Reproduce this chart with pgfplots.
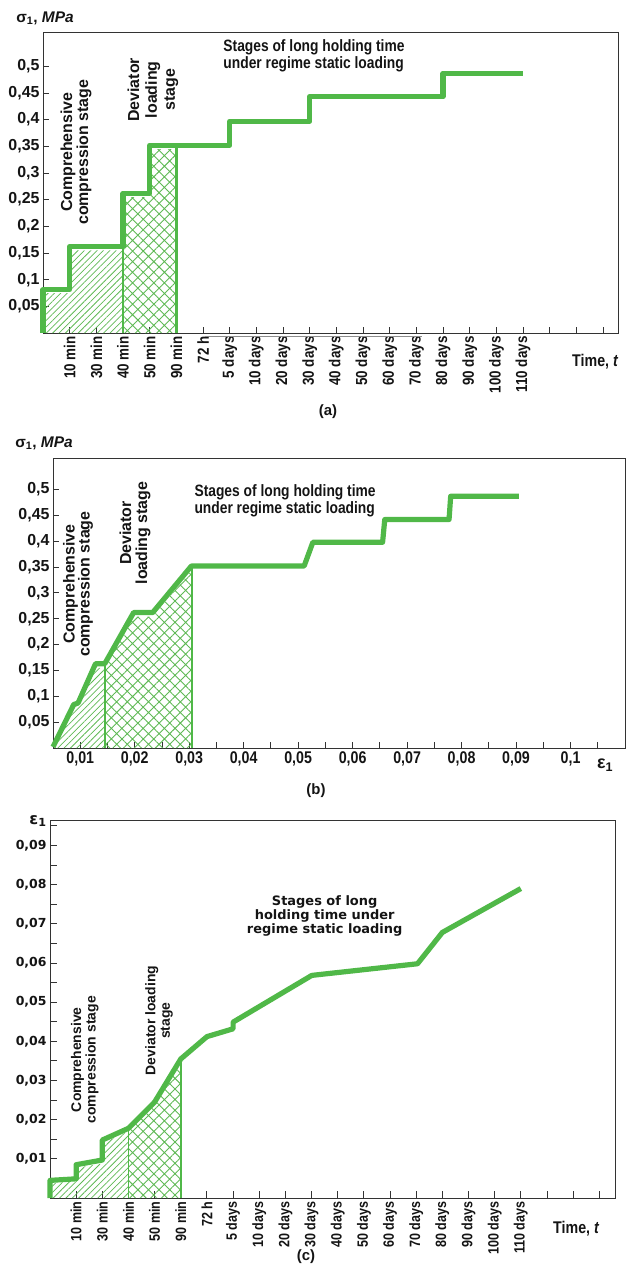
\documentclass[border=0pt]{standalone}
\usepackage{fontspec}
\setmainfont{Liberation Sans}
\newfontfamily\narrowsf{Liberation Sans}[FakeStretch=0.84]
\newfontfamily\djv{DejaVu Sans}
\usepackage{pgfplots}
\pgfplotsset{compat=1.18}
\usetikzlibrary{patterns.meta}
\definecolor{lgreen}{RGB}{80,184,72}
\definecolor{hgreen}{RGB}{95,185,85}
\definecolor{txt}{RGB}{20,20,20}

\pgfplotsset{
  panel/.style={
    scale only axis, anchor=south west, clip=false,
    axis line style={line width=1bp, black!80},
    every tick/.style={line width=0.9bp, black!80},
    tick pos=left, tick align=inside,
    major tick length=6bp, minor tick length=6bp,
    scaled ticks=false,
    /pgf/number format/assume math mode=true,
    /pgf/number format/use comma, /pgf/number format/fixed, /pgf/number format/precision=2,
    ticklabel style={text=txt},
  },
  stepline/.style={lgreen, line width=5.2bp, line join=round, line cap=butt},
  linesfill/.style={draw=none, pattern={Lines[angle=45,distance=4.5bp,line width=0.75bp]}, pattern color=hgreen},
  crossfill/.style={draw=none, pattern={Hatch[angle=45,distance=7.5bp,line width=0.9bp]}, pattern color=hgreen},
}

\begin{document}
\begin{tikzpicture}
\useasboundingbox (0,0) rectangle (626bp,-1264bp);

% ================= (a) =================
\begin{axis}[panel, at={(43bp,-333bp)}, width=575bp, height=300bp,
  xmin=0, xmax=21.56, ymin=0, ymax=0.5625,
  xtick={1,...,21},
  xticklabels={10 min,30 min,40 min,50 min,90 min,72 h,5 days,10 days,20 days,30 days,40 days,50 days,60 days,70 days,80 days,90 days,100 days,110 days,{},{},{}},
  xticklabel style={rotate=90, anchor=east, font=\narrowsf\fontsize{16}{16}\selectfont\bfseries},
  ytick={0.05,0.1,0.15,0.2,0.25,0.3,0.35,0.4,0.45,0.5},
  yticklabel style={font=\fontsize{16}{16}\selectfont\bfseries},
]
\addplot[linesfill] coordinates {(0,0) (0,0.075) (1,0.075) (1,0.155) (3,0.155) (3,0)};
\addplot[crossfill] coordinates {(3,0) (3,0.255) (4,0.255) (4,0.345) (5,0.345) (5,0)};
\addplot[lgreen, line width=1.4bp] coordinates {(3,0) (3,0.26)};
\addplot[lgreen, line width=2.4bp] coordinates {(5,0) (5,0.35)};
\addplot[stepline] coordinates {(0,0) (0,0.081) (1,0.081) (1,0.162) (3,0.162) (3,0.262) (4,0.262) (4,0.352) (7,0.352) (7,0.397) (10,0.397) (10,0.443) (15,0.443) (15,0.487) (18,0.487)};
\node[rotate=90, align=center, text=txt, font=\fontsize{16}{16}\selectfont\bfseries] at (axis cs:1.24,0.339) {Comprehensive\\compression stage};
\node[rotate=90, align=center, text=txt, font=\fontsize{16}{18}\selectfont\bfseries] at (axis cs:4.12,0.456) {Deviator\\loading\\stage};
\node[align=left, text=txt, font=\narrowsf\fontsize{16.5}{17}\selectfont\bfseries] at (axis cs:10.16,0.519) {Stages of long holding time\\under regime static loading};
\end{axis}
\draw[black!45, line width=1bp] (205bp,-336.5bp) -- (422bp,-336.5bp);
\node[text=txt, font=\fontsize{15.5}{16}\selectfont] at (45bp,-18bp) {\bfseries σ\textsubscript{1}, \itshape MPa};
\node[text=txt, font=\narrowsf\fontsize{17}{17}\selectfont] at (595bp,-362bp) {\bfseries Time, \itshape t};
\node[text=txt, font=\fontsize{15}{15}\selectfont\bfseries] at (328bp,-412bp) {(a)};

% ================= (b) =================
\begin{axis}[panel, at={(53bp,-748bp)}, width=572bp, height=290bp,
  xmin=0.005, xmax=0.11, ymin=0, ymax=0.561,
  xtick={0.01,0.02,0.03,0.04,0.05,0.06,0.07,0.08,0.09,0.1},
  minor xtick={0.015,0.025,0.035,0.045,0.055,0.065,0.075,0.085,0.095,0.105},
  xticklabel style={font=\narrowsf\fontsize{17}{17}\selectfont\bfseries},
  ytick={0.05,0.1,0.15,0.2,0.25,0.3,0.35,0.4,0.45,0.5},
  yticklabel style={font=\fontsize{16}{16}\selectfont\bfseries},
]
\addplot[linesfill] coordinates {(0.005,0) (0.0088,0.077) (0.0096,0.081) (0.0128,0.155) (0.0145,0.155) (0.0145,0)};
\addplot[crossfill] coordinates {(0.0145,0) (0.0145,0.155) (0.0198,0.254) (0.0233,0.254) (0.0305,0.344) (0.0305,0)};
\addplot[lgreen, line width=1.6bp] coordinates {(0.0145,0) (0.0145,0.163)};
\addplot[lgreen, line width=2.4bp] coordinates {(0.0305,0) (0.0305,0.35)};
\addplot[stepline] coordinates {(0.005,0.002) (0.0088,0.084) (0.0096,0.087) (0.0128,0.163) (0.0145,0.163) (0.0198,0.262) (0.0233,0.262) (0.0304,0.352) (0.0511,0.352) (0.0527,0.398) (0.0655,0.398) (0.0659,0.442) (0.0777,0.442) (0.0780,0.487) (0.0905,0.487)};
\node[rotate=90, align=center, text=txt, font=\fontsize{16}{15}\selectfont\bfseries] at (axis cs:0.0096,0.317) {Comprehensive\\compression stage};
\node[rotate=90, align=center, text=txt, font=\fontsize{16}{16}\selectfont\bfseries] at (axis cs:0.02005,0.416) {Deviator\\loading stage};
\node[align=left, text=txt, font=\narrowsf\fontsize{16.5}{17}\selectfont\bfseries] at (axis cs:0.0476,0.478) {Stages of long holding time\\under regime static loading};
\end{axis}
\node[text=txt, font=\fontsize{15.5}{16}\selectfont] at (44bp,-443bp) {\bfseries σ\textsubscript{1}, \itshape MPa};
\node[text=txt, font=\fontsize{18}{18}\selectfont\bfseries] at (605bp,-765bp) {ε\textsubscript{1}};
\node[text=txt, font=\fontsize{15}{15}\selectfont\bfseries] at (316bp,-791bp) {(b)};

% ================= (c) =================
\begin{axis}[panel, at={(50bp,-1198bp)}, width=565bp, height=378bp,
  xmin=0, xmax=21.6, ymin=0, ymax=0.0965,
  major tick length=7bp, minor tick length=7bp,
  xtick={1,...,21},
  xticklabels={10 min,30 min,40 min,50 min,90 min,72 h,5 days,10 days,20 days,30 days,40 days,50 days,60 days,70 days,80 days,90 days,100 days,110 days,{},{},{}},
  xticklabel style={rotate=90, anchor=east, font=\narrowsf\fontsize{15}{15}\selectfont\bfseries},
  ytick={0.01,0.02,0.03,0.04,0.05,0.06,0.07,0.08,0.09},
  minor ytick={0.005,0.015,0.025,0.035,0.045,0.055,0.065,0.075,0.085,0.095},
  yticklabel style={font=\djv\fontsize{12.5}{13}\selectfont\bfseries},
]
\addplot[linesfill] coordinates {(0,0) (0,0.0038) (1,0.0042) (1,0.0077) (2,0.0088) (2,0.014) (3,0.017) (3,0)};
\addplot[crossfill] coordinates {(3,0) (3,0.017) (4,0.0236) (5,0.0342) (5,0)};
\addplot[lgreen, line width=1.4bp] coordinates {(3,0) (3,0.0178)};
\addplot[lgreen, line width=2.2bp] coordinates {(5,0) (5,0.0355)};
\addplot[stepline] coordinates {(0,0) (0,0.0045) (1,0.0049) (1,0.0085) (2,0.0097) (2,0.0148) (3,0.0178) (4,0.0245) (5,0.0355) (6,0.0412) (7,0.0432) (7,0.0449) (10,0.0568) (10.1,0.0569) (14.05,0.0598) (15,0.0678) (18,0.079)};
\node[rotate=90, align=center, text=txt, font=\fontsize{14}{14.5}\selectfont\bfseries] at (axis cs:1.33,0.0353) {Comprehensive\\compression stage};
\node[rotate=90, align=center, text=txt, font=\fontsize{14}{14.5}\selectfont\bfseries] at (axis cs:4.17,0.0453) {Deviator loading\\stage};
\node[align=center, text=txt, font=\djv\fontsize{13}{14}\selectfont\bfseries] at (axis cs:10.5,0.0719) {Stages of long\\holding time under\\regime static loading};
\end{axis}
\node[text=txt, font=\djv\fontsize{16}{16}\selectfont\bfseries] at (38bp,-821bp) {ε\textsubscript{1}};
\node[text=txt, font=\narrowsf\fontsize{17}{17}\selectfont] at (576bp,-1229bp) {\bfseries Time, \itshape t};
\node[text=txt, font=\fontsize{15}{15}\selectfont\bfseries] at (306bp,-1257bp) {(c)};
\end{tikzpicture}
\end{document}
